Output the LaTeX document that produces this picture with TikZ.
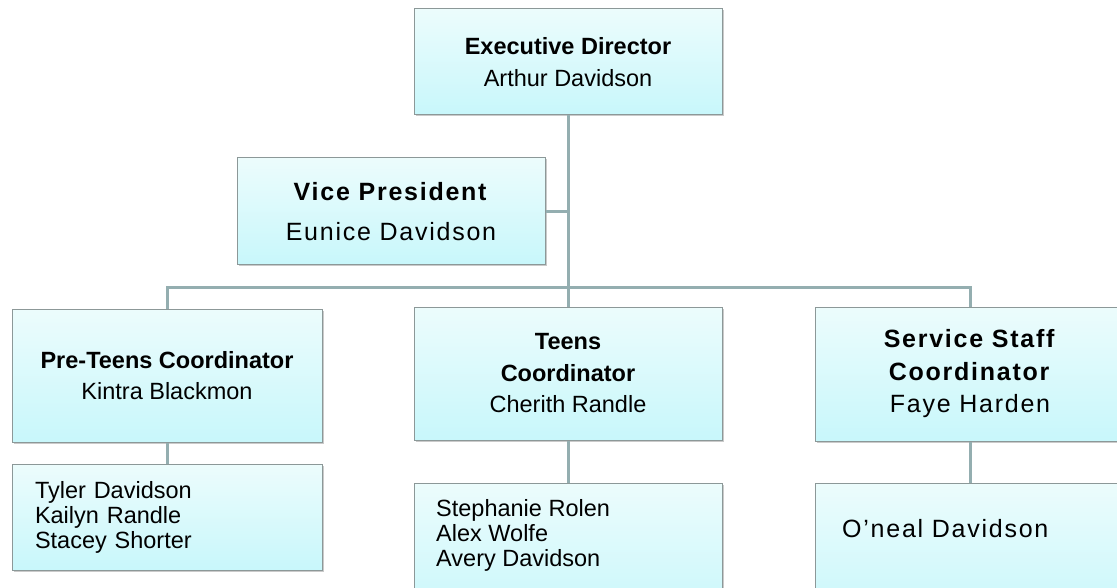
\documentclass[tikz,border=0pt]{standalone}
\usepackage{fontspec}
\setmainfont{Liberation Sans}
\newfontfamily\widefont[LetterSpace=7]{Liberation Sans}
\usetikzlibrary{shadows}
\definecolor{boxtop}{RGB}{236,252,252}
\definecolor{boxbot}{RGB}{200,247,251}
\definecolor{boxline}{RGB}{140,152,152}
\definecolor{conn}{RGB}{148,174,176}
\tikzset{
  orgbox/.style={draw=boxline, line width=1pt, top color=boxtop, bottom color=boxbot,
    drop shadow={shadow xshift=1.5pt, shadow yshift=-1.5pt, opacity=0.35, fill=black!60},
    inner sep=0pt, align=center, font=\fontsize{23.5}{31.5}\selectfont},
  widebox/.style={orgbox, font=\widefont\fontsize{25}{32.5}\selectfont},
  listbox/.style={orgbox, align=left, font=\fontsize{23.5}{25}\selectfont},
  listtext/.style={inner sep=0pt, align=left, font=\fontsize{23.5}{25}\selectfont},
  link/.style={draw=conn, line width=3pt},
}
\begin{document}
\begin{tikzpicture}[x=1pt,y=-1pt]
\useasboundingbox (0,0) rectangle (1117,588);
% boxes
\node[orgbox, minimum width=308pt, minimum height=106pt] (exec) at (568,62)
  {\textbf{Executive Director}\\Arthur Davidson};
\node[widebox, minimum width=308pt, minimum height=107pt,
  font=\widefont\fontsize{25}{40}\selectfont] (vp) at (391,211.5)
  {\textbf{Vice President}\\Eunice Davidson};
\node[orgbox, minimum width=310pt, minimum height=133pt] (pre) at (167,375.5)
  {\textbf{Pre-Teens Coordinator}\\Kintra Blackmon};
\node[orgbox, minimum width=308pt, minimum height=133pt] (teens) at (568,373.5)
  {\textbf{Teens}\\\textbf{Coordinator}\\Cherith Randle};
\node[widebox, minimum width=310pt, minimum height=134pt] (serv) at (970,374)
  {\textbf{Service Staff}\\\textbf{Coordinator}\\Faye Harden};
\node[listbox, minimum width=310pt, minimum height=106pt, text width=264pt] (prechild) at (167,517)
  {Tyler Davidson\\Kailyn Randle\\Stacey Shorter};
\node[orgbox, minimum width=308pt, minimum height=137pt] (teenschild) at (568,551.5) {};
\node[listtext, anchor=north west] (teenslist) at (436,499)
  {Stephanie Rolen\\Alex Wolfe\\Avery Davidson};
\node[orgbox, minimum width=310pt, minimum height=137pt] (servchild) at (970,551.5) {};
\node[inner sep=0pt, anchor=base west, font=\widefont\fontsize{25}{30}\selectfont] (servname) at (842,537)
  {O’neal Davidson};
% connectors
\coordinate (j) at (569,288);
\draw[link] (exec.south) -- (exec.south |- j);
\draw[link] (vp.east) -- (vp.east -| j);
\draw[link] (pre.north) -- (pre.north |- j) -- (serv.north |- j) -- (serv.north);
\draw[link] (teens.north) -- (teens.north |- j);
\draw[link] (pre.south) -- (prechild.north);
\draw[link] (teens.south) -- (teenschild.north);
\draw[link] (serv.south) -- (servchild.north);
\end{tikzpicture}
\end{document}
